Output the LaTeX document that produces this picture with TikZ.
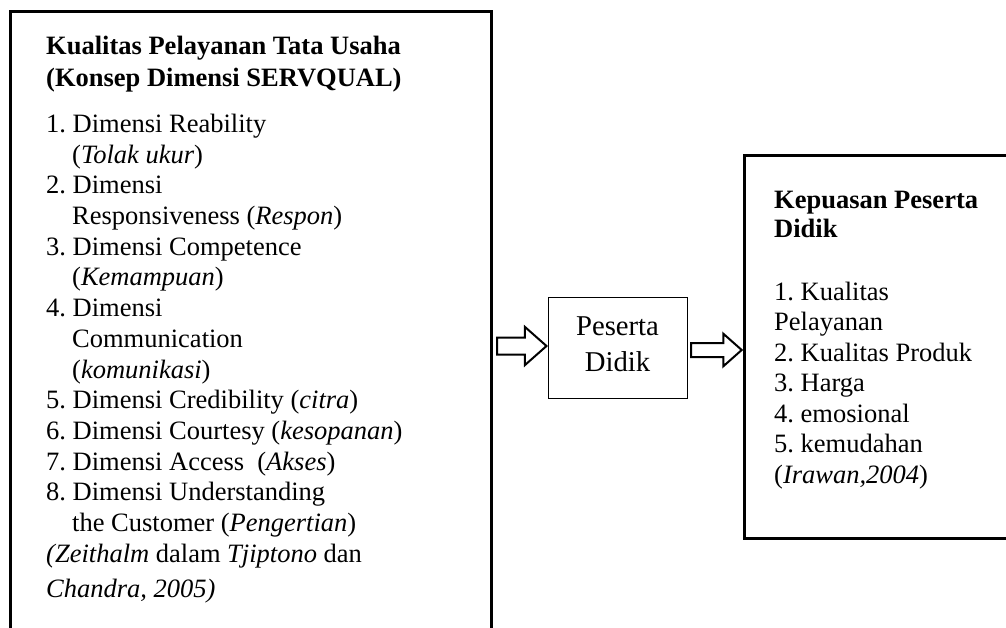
\documentclass[tikz,border=0pt]{standalone}
\usepackage{fontspec}
\setmainfont{Liberation Serif}
\usetikzlibrary{calc}
\newcommand\hind{\hspace*{26pt}}
\frenchspacing
\begin{document}
\begin{tikzpicture}[x=1pt,y=-1pt,
  bigbox/.style={draw, line width=3pt, inner sep=0pt, outer sep=0pt, anchor=north west},
  smallbox/.style={draw, line width=1pt, inner sep=0pt, outer sep=0pt, anchor=north west},
  txt/.style={inner sep=0pt, align=left, anchor=base west},
  arrowline/.style={line width=2pt, line join=miter}]
\useasboundingbox (0,0) rectangle (1006,628);
% boxes
\node[bigbox, minimum width=481pt, minimum height=660pt] (lbox) at (10.5,11.5) {};
\node[bigbox, minimum width=300pt, minimum height=382.5pt] (rbox) at (744.7,155.5) {};
\node[smallbox, minimum width=138.5pt, minimum height=101.5pt] (pd) at (548.5,297) {};
% texts (anchored at the baseline of the last line)
\node[txt, font=\fontsize{26.5pt}{30.7pt}\selectfont\frenchspacing] (ltext) at (46,597) {%
\textbf{Kualitas Pelayanan Tata Usaha}\\[1.3pt]
\textbf{(Konsep Dimensi SERVQUAL)}\\[15.3pt]
1. Dimensi Reability\\
\hind(\textit{Tolak ukur})\\
2. Dimensi\\
\hind Responsiveness (\textit{Respon})\\
3. Dimensi Competence\\
\hind(\textit{Kemampuan})\\
4. Dimensi\\
\hind Communication\\
\hind(\textit{komunikasi})\\
5. Dimensi Credibility (\textit{citra})\\
6. Dimensi Courtesy (\textit{kesopanan})\\
7. Dimensi Access\ \ (\textit{Akses})\\
8. Dimensi Understanding\\
\hind the Customer (\textit{Pengertian})\\[-0.2pt]
\textit{(Zeithalm} dalam \textit{Tjiptono} dan\\[4.3pt]
\textit{Chandra, 2005)}};
\node[txt, font=\fontsize{26.5pt}{30.5pt}\selectfont\frenchspacing] (rtext) at (774,483) {%
\textbf{Kepuasan Peserta}\\[-1.5pt]
\textbf{Didik}\\[32.5pt]
1. Kualitas\\
Pelayanan\\
2. Kualitas Produk\\
3. Harga\\
4. emosional\\
5. kemudahan\\
(\textit{Irawan,2004})};
\node[inner sep=0pt, align=center, anchor=base, font=\fontsize{28.7pt}{36.7pt}\selectfont] (pdtext) at (617.5,371.7) {Peserta\\Didik};
% block arrows
\draw[arrowline] let \p1=($(lbox.east)+(5.5,0)$), \p2=($(pd.west)+(-2,-1.75)$) in
  (\x1,\y2+8.5pt) -- (\x2-21.7pt,\y2+8.5pt) -- (\x2-21.7pt,\y2+19.2pt) -- (\x2,\y2)
  -- (\x2-21.7pt,\y2-19.2pt) -- (\x2-21.7pt,\y2-8.5pt) -- (\x1,\y2-8.5pt) -- cycle;
\draw[arrowline] let \p1=($(pd.east)+(4,2.25)$), \p2=($(rbox.west)+(-3,0)$) in
  (\x1,\y1+7pt) -- (\x2-18.4pt,\y1+7pt) -- (\x2-18.4pt,\y1+16.3pt) -- (\x2,\y1)
  -- (\x2-18.4pt,\y1-16.3pt) -- (\x2-18.4pt,\y1-7pt) -- (\x1,\y1-7pt) -- cycle;
\end{tikzpicture}
\end{document}
